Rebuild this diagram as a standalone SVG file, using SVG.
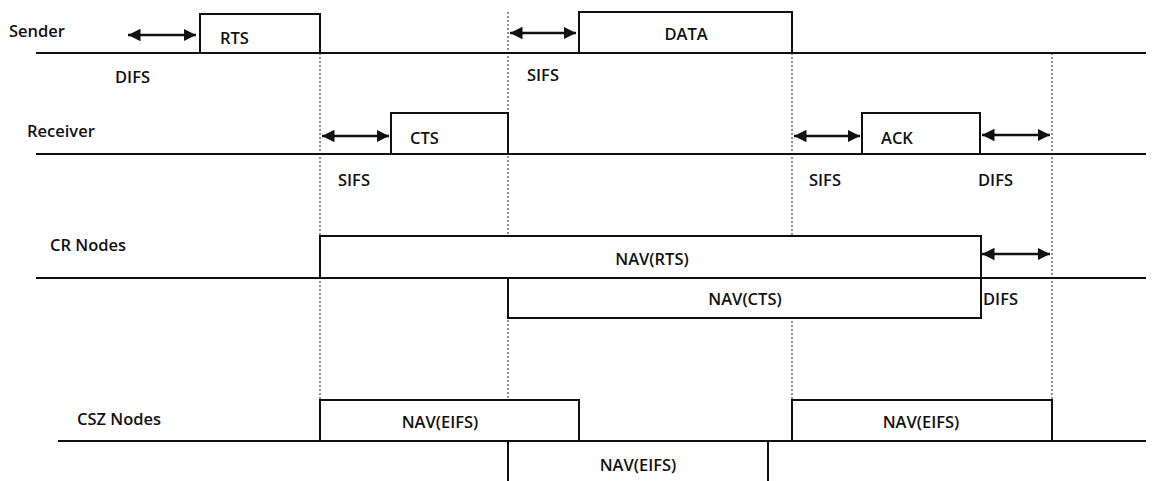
<svg xmlns="http://www.w3.org/2000/svg" width="1166" height="481" viewBox="0 0 1166 481">
<style>
text{font-family:"Open Sans","Liberation Sans",sans-serif;font-size:16.5px;font-weight:600;fill:#111}
.c{text-anchor:middle}
.base{stroke:#111;stroke-width:2;fill:none}
.box{stroke:#111;stroke-width:2;fill:#fff}
.dot{stroke:#222;stroke-width:1;stroke-dasharray:2,2;fill:none}
.arr{stroke:#111;stroke-width:2.5;fill:none;marker-start:url(#ah);marker-end:url(#ah)}
</style>
<defs>
<marker id="ah" viewBox="0 0 10 10" refX="10" refY="5" markerWidth="5" markerHeight="5" orient="auto-start-reverse" markerUnits="strokeWidth">
<path d="M0,0 L10,5 L0,10 z" fill="#111"/>
</marker>
</defs>
<rect width="1166" height="481" fill="#fff"/>
<g id="guides">
<line class="dot" x1="320" y1="53" x2="320" y2="400"/>
<line class="dot" x1="508" y1="12" x2="508" y2="441"/>
<line class="dot" x1="792" y1="53" x2="792" y2="400"/>
<line class="dot" x1="1052" y1="53" x2="1052" y2="400"/>
</g>
<g id="baselines">
<line class="base" x1="36" y1="53" x2="1146" y2="53"/>
<line class="base" x1="36" y1="154" x2="1146" y2="154"/>
<line class="base" x1="36" y1="278" x2="1146" y2="278"/>
<line class="base" x1="58" y1="441" x2="1146" y2="441"/>
</g>
<g id="sender">
<text x="9" y="37">Sender</text>
<text x="115" y="83">DIFS</text>
</g>
<g id="rts"><rect class="box" x="200" y="14" width="120" height="39"/><text x="220" y="44">RTS</text></g>
<g id="data"><rect class="box" x="579" y="12" width="213" height="41"/><text class="c" x="686" y="40">DATA</text></g>
<g id="sifs1"><text x="527" y="81">SIFS</text></g>
<g id="receiver"><text x="27" y="137">Receiver</text></g>
<g id="cts"><rect class="box" x="391" y="113" width="117" height="41"/><text x="410" y="144">CTS</text></g>
<g id="sifs2"><text x="338" y="186">SIFS</text></g>
<g id="ack"><rect class="box" x="862" y="113" width="118" height="41"/><text x="881" y="144">ACK</text></g>
<g id="sifs3"><text x="809" y="186">SIFS</text></g>
<g id="difs2"><text x="978" y="186">DIFS</text></g>
<g id="crnodes"><text x="50" y="251">CR Nodes</text></g>
<g id="navrts"><rect class="box" x="320" y="236" width="661" height="42"/><text class="c" x="652" y="265">NAV(RTS)</text></g>
<g id="navcts"><rect class="box" x="508" y="278" width="473" height="40"/><text class="c" x="745" y="305">NAV(CTS)</text></g>
<g id="difs3"><text x="983" y="305">DIFS</text></g>
<g id="csznodes"><text x="77" y="425">CSZ Nodes</text></g>
<g id="naveifs1"><rect class="box" x="320" y="400" width="259" height="41"/><text class="c" x="440" y="428">NAV(EIFS)</text></g>
<g id="naveifs2"><rect class="box" x="792" y="400" width="260" height="41"/><text class="c" x="921" y="428">NAV(EIFS)</text></g>
<g id="naveifs3"><rect class="box" x="508" y="441" width="260" height="42"/><text class="c" x="638" y="471">NAV(EIFS)</text></g>
<g id="connectors">
<line class="arr" x1="128" y1="35" x2="196" y2="35"/>
<line class="arr" x1="510" y1="33" x2="576" y2="33"/>
<line class="arr" x1="322" y1="136" x2="389" y2="136"/>
<line class="arr" x1="794" y1="136" x2="860" y2="136"/>
<line class="arr" x1="982" y1="135" x2="1050" y2="135"/>
<line class="arr" x1="982" y1="254" x2="1050" y2="254"/>
</g>
</svg>
